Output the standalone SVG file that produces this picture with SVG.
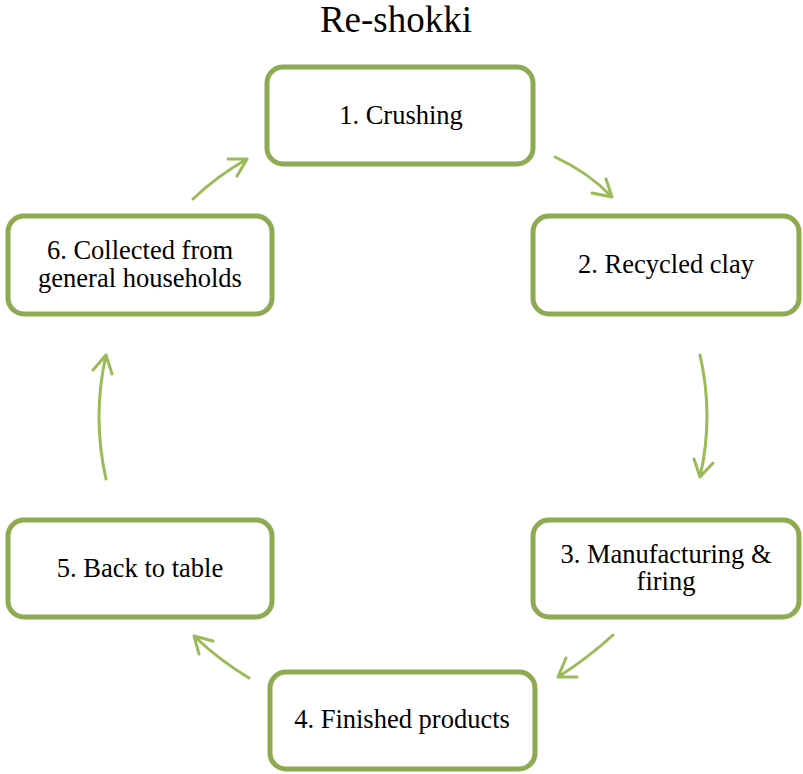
<svg xmlns="http://www.w3.org/2000/svg" width="803" height="774" viewBox="0 0 803 774">
<style>
.box{fill:#fff;stroke:#8EAA52;stroke-width:5}
.t{font-family:"Liberation Serif","Times New Roman",serif;font-size:26.5px;fill:#000;text-anchor:middle}
.title{font-family:"Liberation Serif","Times New Roman",serif;font-size:37px;fill:#000;text-anchor:middle}
.c{fill:none;stroke:#9BBB59;stroke-width:3;stroke-linecap:round;stroke-linejoin:round}
</style>
<rect width="803" height="774" fill="#fff"/>
<text class="title" x="396" y="32">Re-shokki</text>
<g id="n1"><rect class="box" x="267" y="67" width="266" height="97" rx="16"/><text class="t" x="401" y="124">1. Crushing</text></g>
<g id="n2"><rect class="box" x="533" y="216" width="266" height="98" rx="16"/><text class="t" x="666" y="273">2. Recycled clay</text></g>
<g id="n3"><rect class="box" x="533" y="520" width="266" height="97" rx="16"/><text class="t" x="666" y="563">3. Manufacturing &amp;</text><text class="t" x="666" y="590">firing</text></g>
<g id="n4"><rect class="box" x="270" y="672" width="265" height="97" rx="16"/><text class="t" x="402" y="728">4. Finished products</text></g>
<g id="n5"><rect class="box" x="8" y="520" width="264" height="97" rx="16"/><text class="t" x="140" y="577">5. Back to table</text></g>
<g id="n6"><rect class="box" x="8" y="216" width="264" height="98" rx="16"/><text class="t" x="140" y="259">6. Collected from</text><text class="t" x="140" y="287">general households</text></g>
<g id="connectors">
<path class="c" d="M555 157 Q588 172 612 197 M592 193 L612 197 L606 179"/>
<path class="c" d="M700 355 Q714 416 700 477 M694 459 L700 477 L713 463"/>
<path class="c" d="M613 635 Q588 658 558 677 M566 658 L558 677 L577 677"/>
<path class="c" d="M249 678 Q219 660 194 636 M213 641 L194 636 L199 654"/>
<path class="c" d="M106 479 Q92 417 106 355 M93 370 L106 355 L112 374"/>
<path class="c" d="M193 199 Q217 176 247 159 M228 159 L247 159 L237 176"/>
</g>
</svg>
